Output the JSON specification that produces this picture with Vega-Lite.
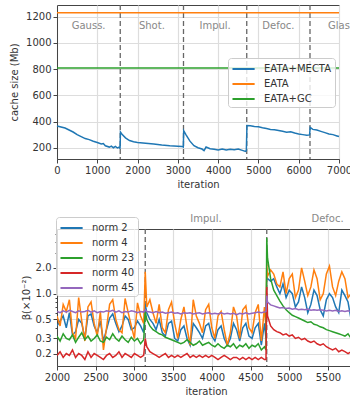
{
  "$schema": "https://vega.github.io/schema/vega-lite/v6.json",
  "padding": {"left": 9, "top": 3, "right": 0, "bottom": 0},
  "spacing": 23,
  "config": {
    "font": "DejaVu Sans",
    "view": {"stroke": "#444", "strokeWidth": 1},
    "axis": {"labelFontSize": 10, "titleFontSize": 10, "titleFontWeight": "normal", "labelColor": "#333", "titleColor": "#333", "domainColor": "#444", "tickColor": "#444", "tickSize": 4, "gridColor": "#dddddd", "gridWidth": 1.2, "labelPadding": 2, "titlePadding": 4, "labelOverlap": false, "labelFlush": false, "format": "d"},
    "legend": {"symbolType": "M-1,0H2.4", "symbolStrokeWidth": 2, "symbolSize": 170, "labelFontSize": 10, "labelColor": "#333", "fillColor": "rgba(255,255,255,0.8)", "strokeColor": "#cccccc", "cornerRadius": 3, "padding": 3, "rowPadding": 2, "labelOffset": 17, "labelLimit": 200}
  },
  "resolve": {"scale": {"color": "independent", "x": "independent", "y": "independent"}, "legend": {"color": "independent"}},
  "datasets": {
    "vlines1": [{"it": 1570}, {"it": 3140}, {"it": 4710}, {"it": 6280}],
    "vlines2": [{"it": 3140}, {"it": 4710}],
    "labels1": [{"t": "Gauss.", "it": 785, "v": 1127}, {"t": "Shot.", "it": 2355, "v": 1127}, {"t": "Impul.", "it": 3925, "v": 1127}, {"t": "Defoc.", "it": 5495, "v": 1127}, {"t": "Glass", "it": 7065, "v": 1127}],
    "labels2": [{"t": "Impul.", "it": 3925, "v": 7.5}, {"t": "Defoc.", "it": 5495, "v": 7.5}],
    "cache": [
      {"s": "EATA", "it": 0, "v": 1230}, {"s": "EATA", "it": 7000, "v": 1230},
      {"s": "EATA+GC", "it": 0, "v": 808}, {"s": "EATA+GC", "it": 7000, "v": 808},
      {"s": "EATA+MECTA", "it": 0, "v": 365}, {"s": "EATA+MECTA", "it": 100, "v": 358}, {"s": "EATA+MECTA", "it": 200, "v": 350}, {"s": "EATA+MECTA", "it": 300, "v": 335}, {"s": "EATA+MECTA", "it": 400, "v": 320}, {"s": "EATA+MECTA", "it": 500, "v": 300}, {"s": "EATA+MECTA", "it": 600, "v": 285}, {"s": "EATA+MECTA", "it": 700, "v": 270}, {"s": "EATA+MECTA", "it": 800, "v": 262}, {"s": "EATA+MECTA", "it": 900, "v": 250}, {"s": "EATA+MECTA", "it": 1000, "v": 240}, {"s": "EATA+MECTA", "it": 1100, "v": 228}, {"s": "EATA+MECTA", "it": 1150, "v": 232}, {"s": "EATA+MECTA", "it": 1200, "v": 215}, {"s": "EATA+MECTA", "it": 1300, "v": 205}, {"s": "EATA+MECTA", "it": 1350, "v": 212}, {"s": "EATA+MECTA", "it": 1400, "v": 200}, {"s": "EATA+MECTA", "it": 1450, "v": 210}, {"s": "EATA+MECTA", "it": 1500, "v": 198}, {"s": "EATA+MECTA", "it": 1550, "v": 205}, {"s": "EATA+MECTA", "it": 1565, "v": 192},
      {"s": "EATA+MECTA", "it": 1575, "v": 320}, {"s": "EATA+MECTA", "it": 1620, "v": 300}, {"s": "EATA+MECTA", "it": 1700, "v": 275}, {"s": "EATA+MECTA", "it": 1800, "v": 255}, {"s": "EATA+MECTA", "it": 1900, "v": 245}, {"s": "EATA+MECTA", "it": 2000, "v": 240}, {"s": "EATA+MECTA", "it": 2200, "v": 235}, {"s": "EATA+MECTA", "it": 2400, "v": 228}, {"s": "EATA+MECTA", "it": 2600, "v": 220}, {"s": "EATA+MECTA", "it": 2800, "v": 215}, {"s": "EATA+MECTA", "it": 3000, "v": 212}, {"s": "EATA+MECTA", "it": 3100, "v": 210}, {"s": "EATA+MECTA", "it": 3135, "v": 205},
      {"s": "EATA+MECTA", "it": 3145, "v": 330}, {"s": "EATA+MECTA", "it": 3200, "v": 300}, {"s": "EATA+MECTA", "it": 3300, "v": 250}, {"s": "EATA+MECTA", "it": 3400, "v": 215}, {"s": "EATA+MECTA", "it": 3500, "v": 200}, {"s": "EATA+MECTA", "it": 3600, "v": 190}, {"s": "EATA+MECTA", "it": 3650, "v": 178}, {"s": "EATA+MECTA", "it": 3700, "v": 205}, {"s": "EATA+MECTA", "it": 3800, "v": 192}, {"s": "EATA+MECTA", "it": 3900, "v": 188}, {"s": "EATA+MECTA", "it": 4000, "v": 183}, {"s": "EATA+MECTA", "it": 4100, "v": 190}, {"s": "EATA+MECTA", "it": 4200, "v": 182}, {"s": "EATA+MECTA", "it": 4300, "v": 188}, {"s": "EATA+MECTA", "it": 4400, "v": 185}, {"s": "EATA+MECTA", "it": 4500, "v": 190}, {"s": "EATA+MECTA", "it": 4600, "v": 180}, {"s": "EATA+MECTA", "it": 4680, "v": 172}, {"s": "EATA+MECTA", "it": 4700, "v": 178},
      {"s": "EATA+MECTA", "it": 4715, "v": 370}, {"s": "EATA+MECTA", "it": 4800, "v": 368}, {"s": "EATA+MECTA", "it": 4900, "v": 362}, {"s": "EATA+MECTA", "it": 5000, "v": 360}, {"s": "EATA+MECTA", "it": 5100, "v": 352}, {"s": "EATA+MECTA", "it": 5200, "v": 346}, {"s": "EATA+MECTA", "it": 5300, "v": 340}, {"s": "EATA+MECTA", "it": 5400, "v": 338}, {"s": "EATA+MECTA", "it": 5500, "v": 332}, {"s": "EATA+MECTA", "it": 5600, "v": 325}, {"s": "EATA+MECTA", "it": 5700, "v": 318}, {"s": "EATA+MECTA", "it": 5800, "v": 322}, {"s": "EATA+MECTA", "it": 5900, "v": 312}, {"s": "EATA+MECTA", "it": 6000, "v": 305}, {"s": "EATA+MECTA", "it": 6100, "v": 300}, {"s": "EATA+MECTA", "it": 6200, "v": 295}, {"s": "EATA+MECTA", "it": 6270, "v": 298},
      {"s": "EATA+MECTA", "it": 6285, "v": 355}, {"s": "EATA+MECTA", "it": 6350, "v": 340}, {"s": "EATA+MECTA", "it": 6450, "v": 335}, {"s": "EATA+MECTA", "it": 6550, "v": 325}, {"s": "EATA+MECTA", "it": 6650, "v": 315}, {"s": "EATA+MECTA", "it": 6750, "v": 305}, {"s": "EATA+MECTA", "it": 6850, "v": 300}, {"s": "EATA+MECTA", "it": 6950, "v": 290}, {"s": "EATA+MECTA", "it": 7000, "v": 285}
    ],
    "beta": [
      {"it": 2000, "norm 2": 0.42, "norm 4": 0.55, "norm 23": 0.32, "norm 40": 0.19, "norm 45": 0.62},
      {"it": 2040, "norm 2": 0.48, "norm 4": 0.42, "norm 23": 0.28, "norm 40": 0.21, "norm 45": 0.60},
      {"it": 2080, "norm 2": 0.55, "norm 4": 0.75, "norm 23": 0.34, "norm 40": 0.18, "norm 45": 0.63},
      {"it": 2120, "norm 2": 0.40, "norm 4": 0.62, "norm 23": 0.30, "norm 40": 0.20, "norm 45": 0.61},
      {"it": 2160, "norm 2": 0.60, "norm 4": 0.85, "norm 23": 0.29, "norm 40": 0.19, "norm 45": 0.64},
      {"it": 2200, "norm 2": 0.33, "norm 4": 0.35, "norm 23": 0.33, "norm 40": 0.22, "norm 45": 0.62},
      {"it": 2240, "norm 2": 0.36, "norm 4": 0.30, "norm 23": 0.27, "norm 40": 0.18, "norm 45": 0.60},
      {"it": 2280, "norm 2": 0.50, "norm 4": 0.90, "norm 23": 0.31, "norm 40": 0.20, "norm 45": 0.63},
      {"it": 2320, "norm 2": 0.45, "norm 4": 0.48, "norm 23": 0.35, "norm 40": 0.19, "norm 45": 0.61},
      {"it": 2360, "norm 2": 0.30, "norm 4": 0.28, "norm 23": 0.29, "norm 40": 0.17, "norm 45": 0.62},
      {"it": 2400, "norm 2": 0.55, "norm 4": 0.70, "norm 23": 0.32, "norm 40": 0.21, "norm 45": 0.64},
      {"it": 2440, "norm 2": 0.58, "norm 4": 0.80, "norm 23": 0.28, "norm 40": 0.18, "norm 45": 0.61},
      {"it": 2480, "norm 2": 0.42, "norm 4": 0.45, "norm 23": 0.30, "norm 40": 0.20, "norm 45": 0.63},
      {"it": 2520, "norm 2": 0.35, "norm 4": 0.32, "norm 23": 0.33, "norm 40": 0.19, "norm 45": 0.60},
      {"it": 2560, "norm 2": 0.48, "norm 4": 0.62, "norm 23": 0.28, "norm 40": 0.18, "norm 45": 0.62},
      {"it": 2600, "norm 2": 0.28, "norm 4": 0.22, "norm 23": 0.27, "norm 40": 0.17, "norm 45": 0.61},
      {"it": 2640, "norm 2": 0.38, "norm 4": 0.40, "norm 23": 0.31, "norm 40": 0.19, "norm 45": 0.63},
      {"it": 2680, "norm 2": 0.52, "norm 4": 0.75, "norm 23": 0.29, "norm 40": 0.20, "norm 45": 0.62},
      {"it": 2720, "norm 2": 0.58, "norm 4": 0.85, "norm 23": 0.34, "norm 40": 0.18, "norm 45": 0.64},
      {"it": 2760, "norm 2": 0.45, "norm 4": 0.50, "norm 23": 0.30, "norm 40": 0.19, "norm 45": 0.61},
      {"it": 2800, "norm 2": 0.36, "norm 4": 0.38, "norm 23": 0.28, "norm 40": 0.21, "norm 45": 0.63},
      {"it": 2840, "norm 2": 0.42, "norm 4": 0.35, "norm 23": 0.32, "norm 40": 0.18, "norm 45": 0.60},
      {"it": 2880, "norm 2": 0.55, "norm 4": 0.88, "norm 23": 0.29, "norm 40": 0.20, "norm 45": 0.62},
      {"it": 2920, "norm 2": 0.50, "norm 4": 0.60, "norm 23": 0.27, "norm 40": 0.19, "norm 45": 0.61},
      {"it": 2960, "norm 2": 0.38, "norm 4": 0.42, "norm 23": 0.31, "norm 40": 0.18, "norm 45": 0.63},
      {"it": 3000, "norm 2": 0.40, "norm 4": 0.30, "norm 23": 0.28, "norm 40": 0.20, "norm 45": 0.62},
      {"it": 3040, "norm 2": 0.48, "norm 4": 0.78, "norm 23": 0.30, "norm 40": 0.19, "norm 45": 0.60},
      {"it": 3080, "norm 2": 0.42, "norm 4": 0.55, "norm 23": 0.26, "norm 40": 0.18, "norm 45": 0.62},
      {"it": 3120, "norm 2": 0.35, "norm 4": 0.45, "norm 23": 0.29, "norm 40": 0.19, "norm 45": 0.61},
      {"it": 3140, "norm 2": 0.75, "norm 4": 1.80, "norm 23": 0.62, "norm 40": 0.30, "norm 45": 0.65},
      {"it": 3160, "norm 2": 0.60, "norm 4": 0.70, "norm 23": 0.50, "norm 40": 0.24, "norm 45": 0.62},
      {"it": 3200, "norm 2": 0.50, "norm 4": 0.85, "norm 23": 0.42, "norm 40": 0.21, "norm 45": 0.61},
      {"it": 3240, "norm 2": 0.45, "norm 4": 0.60, "norm 23": 0.38, "norm 40": 0.20, "norm 45": 0.60},
      {"it": 3280, "norm 2": 0.38, "norm 4": 0.45, "norm 23": 0.36, "norm 40": 0.19, "norm 45": 0.62},
      {"it": 3320, "norm 2": 0.50, "norm 4": 0.75, "norm 23": 0.34, "norm 40": 0.18, "norm 45": 0.60},
      {"it": 3360, "norm 2": 0.35, "norm 4": 0.40, "norm 23": 0.33, "norm 40": 0.19, "norm 45": 0.61},
      {"it": 3400, "norm 2": 0.32, "norm 4": 0.35, "norm 23": 0.31, "norm 40": 0.20, "norm 45": 0.59},
      {"it": 3440, "norm 2": 0.45, "norm 4": 0.65, "norm 23": 0.30, "norm 40": 0.18, "norm 45": 0.60},
      {"it": 3480, "norm 2": 0.48, "norm 4": 0.80, "norm 23": 0.29, "norm 40": 0.19, "norm 45": 0.61},
      {"it": 3520, "norm 2": 0.30, "norm 4": 0.45, "norm 23": 0.28, "norm 40": 0.18, "norm 45": 0.59},
      {"it": 3560, "norm 2": 0.28, "norm 4": 0.30, "norm 23": 0.27, "norm 40": 0.19, "norm 45": 0.60},
      {"it": 3600, "norm 2": 0.38, "norm 4": 0.50, "norm 23": 0.26, "norm 40": 0.18, "norm 45": 0.58},
      {"it": 3640, "norm 2": 0.42, "norm 4": 0.70, "norm 23": 0.27, "norm 40": 0.19, "norm 45": 0.60},
      {"it": 3680, "norm 2": 0.30, "norm 4": 0.40, "norm 23": 0.29, "norm 40": 0.20, "norm 45": 0.59},
      {"it": 3720, "norm 2": 0.25, "norm 4": 0.25, "norm 23": 0.27, "norm 40": 0.18, "norm 45": 0.60},
      {"it": 3760, "norm 2": 0.45, "norm 4": 0.85, "norm 23": 0.25, "norm 40": 0.19, "norm 45": 0.58},
      {"it": 3800, "norm 2": 0.40, "norm 4": 0.55, "norm 23": 0.26, "norm 40": 0.18, "norm 45": 0.59},
      {"it": 3840, "norm 2": 0.35, "norm 4": 0.45, "norm 23": 0.28, "norm 40": 0.19, "norm 45": 0.60},
      {"it": 3880, "norm 2": 0.30, "norm 4": 0.35, "norm 23": 0.25, "norm 40": 0.18, "norm 45": 0.58},
      {"it": 3920, "norm 2": 0.42, "norm 4": 0.65, "norm 23": 0.26, "norm 40": 0.19, "norm 45": 0.59},
      {"it": 3960, "norm 2": 0.45, "norm 4": 0.75, "norm 23": 0.27, "norm 40": 0.18, "norm 45": 0.60},
      {"it": 4000, "norm 2": 0.32, "norm 4": 0.40, "norm 23": 0.25, "norm 40": 0.19, "norm 45": 0.58},
      {"it": 4040, "norm 2": 0.28, "norm 4": 0.30, "norm 23": 0.24, "norm 40": 0.18, "norm 45": 0.59},
      {"it": 4080, "norm 2": 0.38, "norm 4": 0.55, "norm 23": 0.26, "norm 40": 0.17, "norm 45": 0.58},
      {"it": 4120, "norm 2": 0.42, "norm 4": 0.62, "norm 23": 0.24, "norm 40": 0.18, "norm 45": 0.60},
      {"it": 4160, "norm 2": 0.30, "norm 4": 0.38, "norm 23": 0.23, "norm 40": 0.19, "norm 45": 0.58},
      {"it": 4200, "norm 2": 0.25, "norm 4": 0.25, "norm 23": 0.25, "norm 40": 0.18, "norm 45": 0.59},
      {"it": 4240, "norm 2": 0.30, "norm 4": 0.35, "norm 23": 0.24, "norm 40": 0.17, "norm 45": 0.58},
      {"it": 4280, "norm 2": 0.45, "norm 4": 0.70, "norm 23": 0.26, "norm 40": 0.18, "norm 45": 0.59},
      {"it": 4320, "norm 2": 0.38, "norm 4": 0.55, "norm 23": 0.23, "norm 40": 0.18, "norm 45": 0.57},
      {"it": 4360, "norm 2": 0.28, "norm 4": 0.30, "norm 23": 0.25, "norm 40": 0.17, "norm 45": 0.59},
      {"it": 4400, "norm 2": 0.40, "norm 4": 0.65, "norm 23": 0.24, "norm 40": 0.18, "norm 45": 0.58},
      {"it": 4440, "norm 2": 0.45, "norm 4": 0.72, "norm 23": 0.26, "norm 40": 0.17, "norm 45": 0.60},
      {"it": 4480, "norm 2": 0.32, "norm 4": 0.40, "norm 23": 0.23, "norm 40": 0.18, "norm 45": 0.58},
      {"it": 4520, "norm 2": 0.30, "norm 4": 0.35, "norm 23": 0.25, "norm 40": 0.17, "norm 45": 0.59},
      {"it": 4560, "norm 2": 0.40, "norm 4": 0.60, "norm 23": 0.24, "norm 40": 0.18, "norm 45": 0.60},
      {"it": 4600, "norm 2": 0.45, "norm 4": 0.75, "norm 23": 0.26, "norm 40": 0.17, "norm 45": 0.61},
      {"it": 4640, "norm 2": 0.25, "norm 4": 0.28, "norm 23": 0.22, "norm 40": 0.18, "norm 45": 0.60},
      {"it": 4680, "norm 2": 0.45, "norm 4": 0.70, "norm 23": 0.24, "norm 40": 0.17, "norm 45": 0.61},
      {"it": 4700, "norm 2": 0.30, "norm 4": 0.40, "norm 23": 0.22, "norm 40": 0.17, "norm 45": 0.62},
      {"it": 4710, "norm 2": 1.60, "norm 4": 2.20, "norm 23": 4.50, "norm 40": 1.20, "norm 45": 0.95},
      {"it": 4720, "norm 2": 1.50, "norm 4": 1.60, "norm 23": 2.60, "norm 40": 0.55, "norm 45": 0.80},
      {"it": 4760, "norm 2": 1.40, "norm 4": 1.90, "norm 23": 1.50, "norm 40": 0.42, "norm 45": 0.74},
      {"it": 4800, "norm 2": 1.50, "norm 4": 1.70, "norm 23": 1.10, "norm 40": 0.38, "norm 45": 0.72},
      {"it": 4840, "norm 2": 1.20, "norm 4": 1.30, "norm 23": 0.95, "norm 40": 0.36, "norm 45": 0.70},
      {"it": 4880, "norm 2": 1.00, "norm 4": 1.20, "norm 23": 0.82, "norm 40": 0.35, "norm 45": 0.68},
      {"it": 4920, "norm 2": 1.30, "norm 4": 1.80, "norm 23": 0.72, "norm 40": 0.33, "norm 45": 0.69},
      {"it": 4960, "norm 2": 0.90, "norm 4": 1.00, "norm 23": 0.65, "norm 40": 0.34, "norm 45": 0.67},
      {"it": 5000, "norm 2": 1.10, "norm 4": 1.50, "norm 23": 0.60, "norm 40": 0.32, "norm 45": 0.68},
      {"it": 5040, "norm 2": 1.00, "norm 4": 1.70, "norm 23": 0.56, "norm 40": 0.33, "norm 45": 0.66},
      {"it": 5080, "norm 2": 0.70, "norm 4": 0.90, "norm 23": 0.54, "norm 40": 0.30, "norm 45": 0.67},
      {"it": 5120, "norm 2": 0.80, "norm 4": 1.10, "norm 23": 0.52, "norm 40": 0.31, "norm 45": 0.65},
      {"it": 5160, "norm 2": 1.20, "norm 4": 2.00, "norm 23": 0.50, "norm 40": 0.29, "norm 45": 0.66},
      {"it": 5200, "norm 2": 0.90, "norm 4": 1.40, "norm 23": 0.48, "norm 40": 0.30, "norm 45": 0.65},
      {"it": 5240, "norm 2": 0.60, "norm 4": 0.95, "norm 23": 0.46, "norm 40": 0.28, "norm 45": 0.66},
      {"it": 5280, "norm 2": 0.75, "norm 4": 1.20, "norm 23": 0.47, "norm 40": 0.27, "norm 45": 0.64},
      {"it": 5320, "norm 2": 1.10, "norm 4": 1.90, "norm 23": 0.44, "norm 40": 0.28, "norm 45": 0.65},
      {"it": 5360, "norm 2": 0.95, "norm 4": 1.50, "norm 23": 0.43, "norm 40": 0.26, "norm 45": 0.64},
      {"it": 5400, "norm 2": 0.65, "norm 4": 0.85, "norm 23": 0.41, "norm 40": 0.25, "norm 45": 0.65},
      {"it": 5440, "norm 2": 0.55, "norm 4": 1.00, "norm 23": 0.40, "norm 40": 0.26, "norm 45": 0.64},
      {"it": 5480, "norm 2": 0.85, "norm 4": 1.70, "norm 23": 0.38, "norm 40": 0.24, "norm 45": 0.63},
      {"it": 5520, "norm 2": 1.00, "norm 4": 2.10, "norm 23": 0.37, "norm 40": 0.23, "norm 45": 0.64},
      {"it": 5560, "norm 2": 0.90, "norm 4": 1.20, "norm 23": 0.36, "norm 40": 0.22, "norm 45": 0.63},
      {"it": 5600, "norm 2": 0.70, "norm 4": 0.95, "norm 23": 0.35, "norm 40": 0.23, "norm 45": 0.64},
      {"it": 5640, "norm 2": 0.60, "norm 4": 1.40, "norm 23": 0.34, "norm 40": 0.21, "norm 45": 0.62},
      {"it": 5680, "norm 2": 1.10, "norm 4": 1.80, "norm 23": 0.33, "norm 40": 0.22, "norm 45": 0.63},
      {"it": 5720, "norm 2": 0.95, "norm 4": 1.50, "norm 23": 0.32, "norm 40": 0.21, "norm 45": 0.62},
      {"it": 5760, "norm 2": 0.80, "norm 4": 0.90, "norm 23": 0.34, "norm 40": 0.20, "norm 45": 0.63},
      {"it": 5800, "norm 2": 0.50, "norm 4": 1.00, "norm 23": 0.30, "norm 40": 0.21, "norm 45": 0.62}
    ]
  },
  "vconcat": [
    {
      "width": 282,
      "height": 154,
      "layer": [
        {
          "data": {"name": "vlines1"},
          "mark": {"type": "rule", "color": "#666666", "strokeDash": [5, 3], "strokeWidth": 1.3},
          "encoding": {"x": {"field": "it", "type": "quantitative", "scale": {"domain": [0, 7000], "nice": false, "zero": false}, "axis": {"values": [0, 1000, 2000, 3000, 4000, 5000, 6000, 7000], "title": "iteration"}}}
        },
        {
          "data": {"name": "cache"},
          "mark": {"type": "line", "strokeWidth": 1.5},
          "encoding": {
            "x": {"field": "it", "type": "quantitative", "scale": {"domain": [0, 7000], "nice": false, "zero": false}, "axis": {"values": [0, 1000, 2000, 3000, 4000, 5000, 6000, 7000], "title": "iteration"}},
            "y": {"field": "v", "type": "quantitative", "scale": {"domain": [114, 1289], "nice": false, "zero": false}, "axis": {"values": [200, 400, 600, 800, 1000, 1200], "title": "cache size (Mb)", "titlePadding": 6}},
            "color": {"field": "s", "type": "nominal", "scale": {"domain": ["EATA+MECTA", "EATA", "EATA+GC"], "range": ["#1f77b4", "#ff7f0e", "#2ca02c"]}, "legend": {"title": null, "orient": "none", "legendX": 171, "legendY": 53}}
          }
        },
        {
          "data": {"name": "labels1"},
          "mark": {"type": "text", "color": "#888888", "fontSize": 10, "baseline": "middle"},
          "encoding": {
            "x": {"field": "it", "type": "quantitative", "scale": {"domain": [0, 7000], "nice": false, "zero": false}, "axis": {"values": [0, 1000, 2000, 3000, 4000, 5000, 6000, 7000], "title": "iteration"}},
            "y": {"field": "v", "type": "quantitative", "scale": {"domain": [114, 1289], "nice": false, "zero": false}, "axis": {"values": [200, 400, 600, 800, 1000, 1200], "title": "cache size (Mb)", "titlePadding": 6}},
            "text": {"field": "t"}
          }
        }
      ]
    },
    {
      "width": 298,
      "height": 137,
      "layer": [
        {
          "data": {"name": "vlines2"},
          "mark": {"type": "rule", "color": "#666666", "strokeDash": [5, 3], "strokeWidth": 1.3},
          "encoding": {"x": {"field": "it", "type": "quantitative", "scale": {"domain": [2000, 5850], "nice": false, "zero": false}, "axis": {"values": [2000, 2500, 3000, 3500, 4000, 4500, 5000, 5500], "title": "iteration"}}}
        },
        {
          "data": {"name": "beta"},
          "transform": [{"fold": ["norm 2", "norm 4", "norm 23", "norm 40", "norm 45"], "as": ["s", "v"]}],
          "mark": {"type": "line", "strokeWidth": 1.5, "clip": true},
          "encoding": {
            "x": {"field": "it", "type": "quantitative", "scale": {"domain": [2000, 5850], "nice": false, "zero": false}, "axis": {"values": [2000, 2500, 3000, 3500, 4000, 4500, 5000, 5500], "title": "iteration"}},
            "y": {"field": "v", "type": "quantitative", "scale": {"type": "log", "domain": [0.143, 5.7], "nice": false}, "axis": {"values": [0.2, 0.3, 0.4, 0.5, 0.6, 0.7, 0.8, 0.9, 1, 2, 3, 4, 5], "labelExpr": "indexof([0.2, 0.3, 0.5, 1, 2], datum.value) >= 0 ? format(datum.value, '.1f') : ''", "gridOpacity": {"condition": {"test": "indexof([0.2, 0.3, 0.5, 1, 2], datum.value) >= 0", "value": 1}, "value": 0}, "tickSize": {"condition": {"test": "indexof([0.2, 0.3, 0.5, 1, 2], datum.value) >= 0", "value": 4}, "value": 2}, "title": "β(×10⁻²)", "titlePadding": 4}},
            "color": {"field": "s", "type": "nominal", "scale": {"domain": ["norm 2", "norm 4", "norm 23", "norm 40", "norm 45"], "range": ["#1f77b4", "#ff7f0e", "#2ca02c", "#d62728", "#9467bd"]}, "legend": {"title": null, "orient": "none", "legendX": -1, "legendY": -12}}
          }
        },
        {
          "data": {"name": "labels2"},
          "mark": {"type": "text", "color": "#888888", "fontSize": 10, "baseline": "middle"},
          "encoding": {
            "x": {"field": "it", "type": "quantitative", "scale": {"domain": [2000, 5850], "nice": false, "zero": false}, "axis": {"values": [2000, 2500, 3000, 3500, 4000, 4500, 5000, 5500], "title": "iteration"}},
            "y": {"field": "v", "type": "quantitative", "scale": {"type": "log", "domain": [0.143, 5.7], "nice": false}, "axis": {"values": [0.2, 0.3, 0.4, 0.5, 0.6, 0.7, 0.8, 0.9, 1, 2, 3, 4, 5], "labelExpr": "indexof([0.2, 0.3, 0.5, 1, 2], datum.value) >= 0 ? format(datum.value, '.1f') : ''", "gridOpacity": {"condition": {"test": "indexof([0.2, 0.3, 0.5, 1, 2], datum.value) >= 0", "value": 1}, "value": 0}, "tickSize": {"condition": {"test": "indexof([0.2, 0.3, 0.5, 1, 2], datum.value) >= 0", "value": 4}, "value": 2}, "title": "β(×10⁻²)", "titlePadding": 4}},
            "text": {"field": "t"}
          }
        }
      ]
    }
  ]
}
